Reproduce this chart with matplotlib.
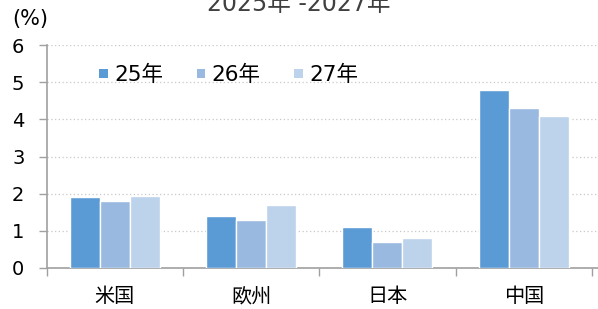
import matplotlib
matplotlib.use("Agg")
import matplotlib.pyplot as plt
from matplotlib.patches import Patch
import numpy as np

plt.rcParams['font.family'] = ['DejaVu Sans', 'Noto Sans CJK JP']

categories = ["米国", "欧州", "日本", "中国"]
series_names = ["25年", "26年", "27年"]
v25 = [1.9, 1.4, 1.1, 4.8]
v26 = [1.8, 1.3, 0.7, 4.3]
v27 = [1.95, 1.7, 0.8, 4.1]
colors = ["#5B9BD5", "#9AB9E0", "#BDD2EB"]
yticks = [0, 1, 2, 3, 4, 5, 6]


def main():
    fig = plt.figure(figsize=(5.98, 3.09), dpi=100)
    ax = fig.add_axes([0.078, 0.1327, 0.922, 0.7213])

    x = np.arange(len(categories))
    w = 0.22
    for i, vals in enumerate([v25, v26, v27]):
        ax.bar(x + (i - 1) * w, vals, width=w, color=colors[i],
               edgecolor="white", linewidth=1, zorder=3)

    ax.set_ylim(0, 6)
    ax.set_xlim(-0.5, 3.545)
    ax.set_yticks(yticks)
    ax.set_yticklabels([str(t) for t in yticks], fontsize=14)
    ax.yaxis.grid(True, linestyle=(0, (1, 2)), color="#C8C8C8", linewidth=0.9, zorder=0)

    # category boundaries as ticks, labels in the middle
    ax.set_xticks(np.arange(-0.5, 4.0, 1.0))
    ax.set_xticklabels([])
    ax.set_xticks(x, minor=True)
    ax.set_xticklabels(categories, minor=True, fontsize=14.5)
    ax.tick_params(axis="x", which="minor", length=0, pad=14)
    ax.tick_params(axis="x", which="major", length=6, color="#A0A0A0", width=1)
    ax.tick_params(axis="y", length=6, color="#A0A0A0", width=1, pad=10)

    for s in ["top", "right"]:
        ax.spines[s].set_visible(False)
    for s in ["left", "bottom"]:
        ax.spines[s].set_color("#A0A0A0")
        ax.spines[s].set_linewidth(1.2)

    handles = [Patch(facecolor=c, edgecolor="none") for c in colors]
    ax.legend(handles, series_names, ncol=3, frameon=False, fontsize=15.5,
              loc="center left", bbox_to_anchor=(0.08, 0.865),
              handlelength=0.4, handleheight=0.22, handletextpad=0.3,
              columnspacing=1.55, borderaxespad=0)

    fig.text(0.02, 1 - 19 / 309, "(%)", fontsize=15, va="center", ha="left")
    fig.text(0.5, 1 - 11 / 309, "2025年 -2027年", fontsize=17, va="baseline",
             ha="center", color="#404040")

    fig.savefig("out.png", dpi=100)


if __name__ == "__main__":
    main()
